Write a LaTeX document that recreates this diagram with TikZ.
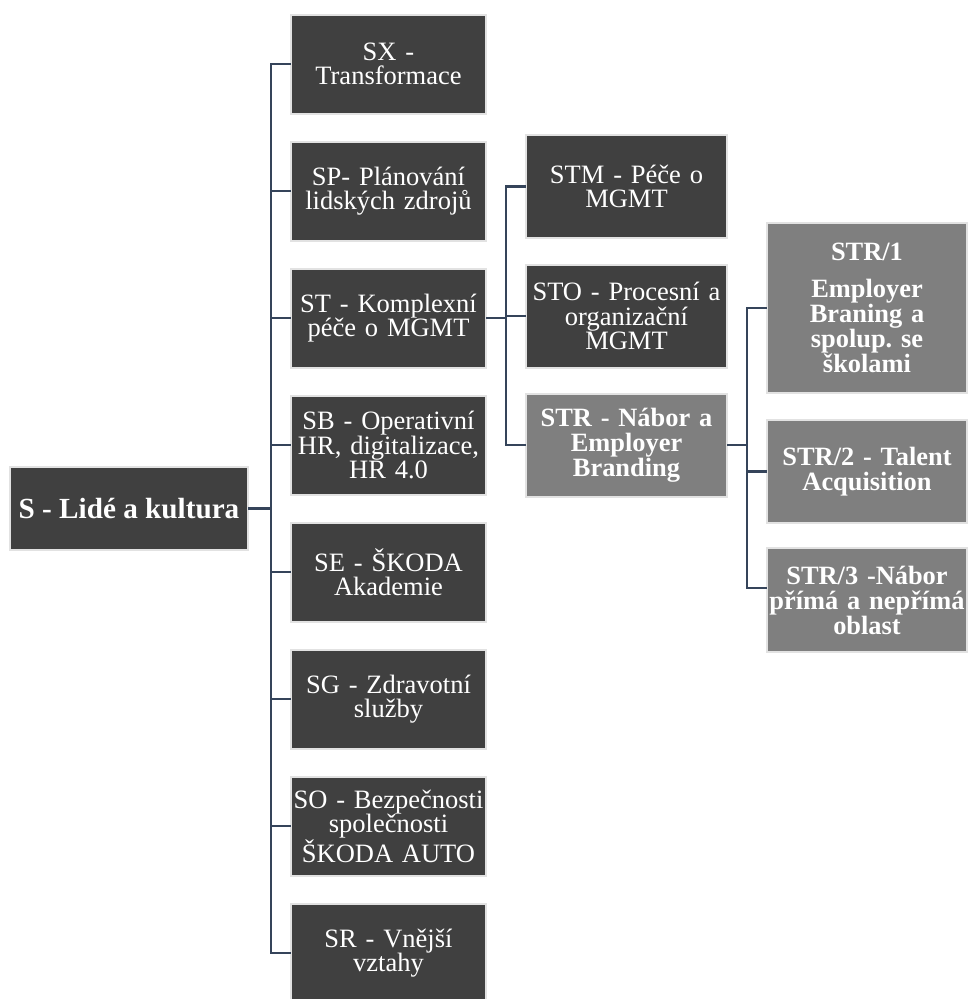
\documentclass[tikz,border=0pt]{standalone}
\usepackage{fontspec}
\setmainfont{Liberation Serif}
\frenchspacing
\definecolor{boxdark}{HTML}{404040}
\definecolor{boxlight}{HTML}{7F7F7F}
\definecolor{boxrim}{HTML}{E2E2E2}
\definecolor{wire}{HTML}{35445A}
\begin{document}
\begin{tikzpicture}[x=1pt,y=-1pt,
  unit/.style={draw=boxrim, line width=2pt, text=white, align=center,
    inner sep=0pt, font=\fontsize{26.5}{24.5}\selectfont},
  darkbox/.style={unit, fill=boxdark},
  lightbox/.style={unit, fill=boxlight, font=\bfseries\fontsize{26.4}{25}\selectfont},
  colA/.style={darkbox, minimum width=195pt, minimum height=99pt, text width=195pt},
  colB/.style={minimum width=201pt, minimum height=103pt, text width=201pt},
  colC/.style={lightbox, minimum width=200pt, text width=200pt},
  wiring/.style={draw=wire, line width=2.8pt, line cap=rect}
]
\useasboundingbox (0,0) rectangle (967,999);
\fill[white] (0,0) rectangle (967,999);

% root
\node[darkbox, minimum width=238pt, minimum height=83pt,
  font=\bfseries\fontsize{29.2}{30}\selectfont] (root) at (129,508.5) {S - Lidé a kultura};

% first level
\node[colA] (sx) at (388.5,64)  {SX -\\Transformace};
\node[colA] (sp) at (388.5,191) {SP- Plánování\\lidských zdrojů};
\node[colA] (st) at (388.5,318) {ST - Komplexní\\péče o MGMT};
\node[colA] (sb) at (388.5,445) {SB - Operativní\\HR, digitalizace,\\HR 4.0};
\node[colA] (se) at (388.5,572) {SE - ŠKODA\\Akademie};
\node[colA] (sg) at (388.5,699) {SG - Zdravotní\\služby};
\node[colA] (so) at (388.5,826) {SO - Bezpečnosti\\společnosti\\ŠKODA AUTO};
\node[colA] (sr) at (388.5,953) {SR - Vnější\\vztahy};

% second level under ST
\node[darkbox, colB] (stm) at (626.5,186.5) {STM - Péče o\\MGMT};
\node[darkbox, colB] (sto) at (626.5,316) {STO - Procesní a\\organizační\\MGMT};
\node[lightbox, colB] (str) at (626.5,445) {STR - Nábor a\\Employer\\Branding};

% third level under STR
\node[colC, minimum height=170pt] (stra) at (867,308)
  {STR/1\\[12pt] Employer\\Braning a\\spolup. se\\školami};
\node[colC, minimum height=103pt] (strb) at (867,471.5) {STR/2 - Talent\\Acquisition};
\node[colC, minimum height=104pt] (strc) at (867,600) {STR/3 -Nábor\\přímá a nepřímá\\oblast};

% connectors: root to first level
\draw[wiring] (root.east) -- ++(22,0) coordinate (ja);
\draw[wiring] (ja |- sx.west) -- (ja |- sr.west);
\foreach \n in {sx,sp,st,sb,se,sg,so,sr}
  \draw[wiring] (ja |- \n.west) -- (\n.west);

% ST to second level
\draw[wiring] (st.east) -- ++(19,0) coordinate (jb);
\draw[wiring] (jb |- stm.west) -- (jb |- str.west);
\foreach \n in {stm,sto,str}
  \draw[wiring] (jb |- \n.west) -- (\n.west);

% STR to third level; the lowest branch meets its box a little above the middle
\coordinate (cend) at ([yshift=12pt]strc.west);
\draw[wiring] (str.east) -- ++(19,0) coordinate (jc);
\draw[wiring] (jc |- stra.west) -- (jc |- cend);
\draw[wiring] (jc |- stra.west) -- (stra.west);
\draw[wiring] (jc |- strb.west) -- (strb.west);
\draw[wiring] (jc |- cend) -- (cend);
\end{tikzpicture}
\end{document}
